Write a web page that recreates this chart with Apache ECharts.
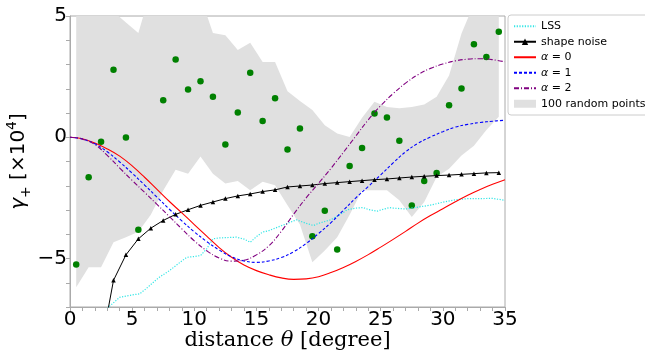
<!DOCTYPE html>
<html>
<head>
<meta charset="utf-8">
<script src="https://cdn.jsdelivr.net/npm/echarts@6/dist/echarts.min.js"></script>
<style>
  html, body { margin: 0; padding: 0; background: #fff; }
  #main { width: 645px; height: 356px; }
</style>
</head>
<body>
<div id="main"></div>
<script>
// theory curves, sampled every degree
const thetaX = [0,1,2,3,4,5,6,7,8,9,10,11,12,13,14,15,16,17,18,19,20,21,22,23,24,25,26,27,28,29,30,31,32,33,34,35]
const alpha0 = [0,-0.06,-0.24,-0.48,-0.78,-1.18,-1.65,-2.15,-2.65,-3.12,-3.6,-4.08,-4.55,-4.95,-5.27,-5.5,-5.67,-5.8,-5.86,-5.84,-5.75,-5.58,-5.37,-5.12,-4.84,-4.53,-4.21,-3.88,-3.54,-3.23,-2.95,-2.66,-2.39,-2.15,-1.94,-1.75]
const alpha1 = [0,-0.07,-0.27,-0.6,-1.02,-1.48,-1.97,-2.47,-2.97,-3.45,-3.9,-4.3,-4.65,-4.93,-5.1,-5.16,-5.1,-4.96,-4.72,-4.38,-3.97,-3.52,-3.01,-2.5,-2.03,-1.55,-1.06,-0.6,-0.25,0.01,0.23,0.42,0.53,0.61,0.66,0.7]
const alpha2 = [0,-0.08,-0.3,-0.75,-1.27,-1.78,-2.27,-2.77,-3.27,-3.78,-4.27,-4.68,-4.98,-5.11,-5.07,-4.85,-4.48,-3.88,-3.17,-2.5,-1.9,-1.28,-0.62,0.05,0.72,1.3,1.8,2.23,2.58,2.84,3.02,3.15,3.22,3.24,3.2,3.11]

// LSS (cyan dotted)
const lssX = [3,4,5,5.6,6,7,7.2,8,9,9.4,10,10.5,11,11.5,12,13,13.4,14,14.5,15,15.5,16,17,18,18.2,19,19.6,20,21,22,22.3,23,23.6,24,24.7,25,25.7,26,27,28,29,30,31,32,33,34,35]
const lssY = [-7.05,-6.6,-6.5,-6.46,-6.3,-5.85,-5.77,-5.5,-5.1,-4.95,-4.92,-4.88,-4.6,-4.19,-4.15,-4.13,-4.12,-4.2,-4.33,-4.1,-3.91,-3.85,-3.65,-3.45,-3.4,-3.55,-3.64,-3.55,-3.4,-3.1,-2.99,-2.92,-2.9,-2.98,-3.05,-3.0,-2.9,-2.92,-2.96,-2.88,-2.8,-2.68,-2.58,-2.53,-2.53,-2.52,-2.6]

// bins at half-degree centres
const binX = [0.5,1.5,2.5,3.5,4.5,5.5,6.5,7.5,8.5,9.5,10.5,11.5,12.5,13.5,14.5,15.5,16.5,17.5,18.5,19.5,20.5,21.5,22.5,23.5,24.5,25.5,26.5,27.5,28.5,29.5,30.5,31.5,32.5,33.5,34.5]
const shapeNoise = [null,null,-8.65,-5.9,-4.85,-4.19,-3.75,-3.43,-3.18,-2.99,-2.81,-2.67,-2.53,-2.42,-2.34,-2.24,-2.17,-2.05,-2.01,-1.97,-1.91,-1.87,-1.83,-1.79,-1.75,-1.72,-1.68,-1.64,-1.61,-1.58,-1.56,-1.53,-1.5,-1.47,-1.46]
const dataPts = [-5.25,-1.65,-0.19,2.78,-0.01,-3.81,null,1.53,3.21,1.97,2.31,1.67,-0.3,1.02,2.66,0.67,1.61,-0.51,0.36,-4.08,-3.03,-4.63,-1.19,-0.44,0.98,0.81,-0.14,-2.81,-1.8,-1.47,1.32,2.01,3.83,3.31,4.35]
const bandLow = [-6.19,-5.36,-5.36,-4.33,-4.12,-3.9,-3.2,-2.2,-1.34,-1.5,-0.79,-1.5,-1.91,-1.8,-2.19,-1.84,-1.98,-2.8,-3.6,-5.15,-4.67,-4.12,-3.2,-2.19,-2.19,-2.19,-2.6,-3.29,-2.67,-1.64,-1.3,-0.75,-0.35,0.3,0.85]
const bandHigh = [6,6,6,5.18,4.73,4.3,6.05,6,6,6,5.8,4.3,4.21,3.6,3.9,3.1,3.1,1.9,1.5,1.12,0.5,0.15,0.01,0.8,1.46,1.25,1.2,1.25,1.35,1.67,2.55,4.28,5.5,6,6]

const pair = (xs, ys) => xs.map((x, i) => [x, ys[i]]).filter(p => p[1] !== null)

const chartDom = document.getElementById('main')
const myChart = echarts.init(chartDom, null, { renderer: 'canvas' })

const gridColor = '#aaaaaa'
const bandColor = '#e0e0e0'
const tickFmt = v => (v % 5 === 0 ? (v < 0 ? '\u2212' + (-v) : String(v)) : '')
const noMarker = { opacity: 0 }

// grey envelope of the random points, drawn as one polygon
const renderBand = (params, api) => {
  if (params.dataIndex !== 0) return null
  const pts = []
  for (let i = 0; i < binX.length; i++) pts.push(api.coord([binX[i], bandLow[i]]))
  for (let i = binX.length - 1; i >= 0; i--) pts.push(api.coord([binX[i], bandHigh[i]]))
  return {
    type: 'polygon',
    shape: { points: pts },
    style: { fill: bandColor, stroke: null }
  }
}

const option = {
  animation: false,
  backgroundColor: '#ffffff',
  grid: {
    left: 70, right: 140, top: 16, bottom: 49,
    outerBoundsMode: 'none',
    show: true, borderColor: gridColor, borderWidth: 1
  },
  legend: {
    left: 508, top: 15,
    orient: 'vertical',
    backgroundColor: '#ffffff',
    borderColor: '#cccccc', borderWidth: 1, borderRadius: 3,
    padding: [5, 6, 5, 5],
    itemWidth: 22, itemHeight: 8, itemGap: 3,
    textStyle: {
      fontFamily: 'DejaVu Sans', fontSize: 11, color: '#000', lineHeight: 12.5,
      rich: {
        i: { fontFamily: 'DejaVu Sans', fontStyle: 'italic', fontSize: 11 }
      }
    },
    formatter: name => name.startsWith('α') ? '{i|α}' + name.slice(1) : name,
    data: [
      { name: 'LSS', itemStyle: noMarker },
      { name: 'shape noise' },
      { name: 'α = 0', itemStyle: noMarker },
      { name: 'α = 1', itemStyle: noMarker },
      { name: 'α = 2', itemStyle: noMarker },
      { name: '100 random points', icon: 'rect' }
    ]
  },
  xAxis: {
    type: 'value', min: 0, max: 35, interval: 1,
    name: '{t|distance }{i|θ}{t| [degree]}',
    nameLocation: 'middle', nameGap: 23, nameMoveOverlap: false,
    nameTextStyle: {
      rich: {
        t: { fontFamily: 'DejaVu Serif', fontSize: 21, color: '#000' },
        i: { fontFamily: 'DejaVu Serif', fontStyle: 'italic', fontSize: 21, color: '#000' }
      }
    },
    axisLine: { onZero: false, lineStyle: { color: gridColor } },
    axisTick: { show: true, length: 4, lineStyle: { color: gridColor } },
    axisLabel: { formatter: tickFmt, fontFamily: 'DejaVu Sans', fontSize: 20, color: '#000', margin: 3 },
    splitLine: { show: false }
  },
  yAxis: {
    type: 'value', min: -7, max: 5, interval: 1,
    name: '{g|γ}{sub|+}{t| [×10}{sup|4}{t|]}',
    nameLocation: 'middle', nameRotate: 90, nameGap: 37, nameMoveOverlap: false,
    nameTextStyle: {
      rich: {
        g: { fontFamily: 'DejaVu Sans', fontStyle: 'italic', fontSize: 20, lineHeight: 28, color: '#000' },
        t: { fontFamily: 'DejaVu Sans', fontSize: 20, lineHeight: 28, color: '#000' },
        sub: { fontFamily: 'DejaVu Sans', fontSize: 14, lineHeight: 14, verticalAlign: 'bottom', color: '#000' },
        sup: { fontFamily: 'DejaVu Sans', fontSize: 14, lineHeight: 14, verticalAlign: 'top', color: '#000' }
      }
    },
    axisLine: { show: true, onZero: false, lineStyle: { color: gridColor } },
    axisTick: { show: true, length: 4, lineStyle: { color: gridColor } },
    axisLabel: { formatter: tickFmt, fontFamily: 'DejaVu Sans', fontSize: 20, color: '#000', margin: 3 },
    splitLine: { show: false }
  },
  series: [
    {
      name: '100 random points', type: 'custom', clip: true,
      renderItem: renderBand,
      data: binX.map((x, i) => [x, bandLow[i], bandHigh[i]]),
      encode: { x: 0, y: [1, 2] },
      itemStyle: { color: bandColor },
      silent: true
    },
    {
      name: 'LSS', type: 'line', data: pair(lssX, lssY), symbol: 'none',
      color: '#33e6e6',
      lineStyle: { color: '#33e6e6', width: 1.2, type: [1.2, 1.5] }
    },
    {
      name: 'shape noise', type: 'line', data: pair(binX, shapeNoise),
      symbol: 'triangle', symbolSize: 4.5, showSymbol: true,
      color: '#000000',
      lineStyle: { color: '#000000', width: 1 },
      itemStyle: { color: '#000000' }
    },
    {
      name: 'α = 0', type: 'line', data: pair(thetaX, alpha0), symbol: 'none', smooth: 0.4,
      color: '#ff0000',
      lineStyle: { color: '#ff0000', width: 1.1 }
    },
    {
      name: 'α = 1', type: 'line', data: pair(thetaX, alpha1), symbol: 'none', smooth: 0.4,
      color: '#0000ff',
      lineStyle: { color: '#0000ff', width: 1.1, type: [3, 2] }
    },
    {
      name: 'α = 2', type: 'line', data: pair(thetaX, alpha2), symbol: 'none', smooth: 0.4,
      color: '#800080',
      lineStyle: { color: '#800080', width: 1.1, type: [5, 2, 1, 2] }
    },
    {
      name: 'data', type: 'scatter', data: pair(binX, dataPts),
      symbol: 'circle', symbolSize: 6.5,
      itemStyle: { color: '#008000', opacity: 1 }
    }
  ]
}

option && myChart.setOption(option)
</script>
</body>
</html>
